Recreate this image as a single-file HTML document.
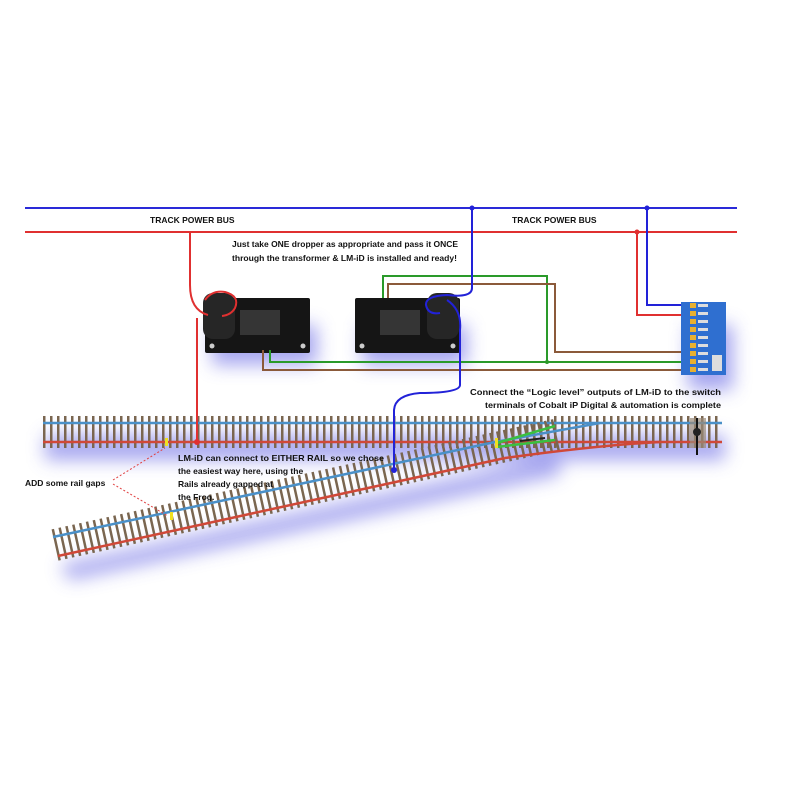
<!DOCTYPE html>
<html><head><meta charset="utf-8"><style>
html,body{margin:0;padding:0;background:#fff;}
svg{display:block;}
text{font-family:"Liberation Sans",sans-serif;font-weight:bold;fill:#111;}
</style></head><body>
<svg width="800" height="800" viewBox="0 0 800 800" xmlns="http://www.w3.org/2000/svg">
<defs>
<filter id="b" x="-20%" y="-80%" width="140%" height="260%"><feGaussianBlur stdDeviation="9"/></filter>
</defs>
<!-- glows -->
<g filter="url(#b)" opacity="0.5" fill="#5050e0">
<rect x="45" y="435" width="680" height="25"/>
<polygon points="60,565 560,455 560,475 70,580"/>
<rect x="212" y="325" width="105" height="40"/>
<rect x="362" y="325" width="105" height="40"/>
<rect x="688" y="325" width="45" height="65"/>
</g>
<!-- buses -->
<line x1="25" y1="208" x2="737" y2="208" stroke="#2a2ad8" stroke-width="2"/>
<line x1="25" y1="232" x2="737" y2="232" stroke="#e03030" stroke-width="2"/>
<text x="150" y="223" font-size="8.5">TRACK POWER BUS</text>
<text x="512" y="223" font-size="8.5">TRACK POWER BUS</text>
<text x="232" y="247" font-size="8.5" textLength="226" lengthAdjust="spacingAndGlyphs">Just take ONE dropper as appropriate and pass it ONCE</text>
<text x="232" y="261" font-size="8.5" textLength="225" lengthAdjust="spacingAndGlyphs">through the transformer &amp; LM-iD is installed and ready!</text>
<!-- straight track -->
<line x1="43" y1="432" x2="722" y2="432" stroke="#7a6650" stroke-width="32" stroke-dasharray="2.5 4.5"/>
<line x1="43" y1="423" x2="722" y2="423" stroke="#4a90c8" stroke-width="2.5"/>
<line x1="43" y1="442" x2="722" y2="442" stroke="#d04838" stroke-width="2.5"/>
<!-- diverging track -->
<line x1="55" y1="545" x2="560" y2="434" stroke="#7a6650" stroke-width="32" stroke-dasharray="2.5 4.5"/>
<line x1="53" y1="537" x2="495" y2="442" stroke="#4a90c8" stroke-width="2.5"/>
<line x1="58" y1="556" x2="505" y2="458" stroke="#d04838" stroke-width="2.5"/>
<path d="M495 442 Q560 430 600 423" stroke="#4a90c8" stroke-width="2.5" fill="none"/>
<path d="M505 458 Q600 445 660 442" stroke="#d04838" stroke-width="2.5" fill="none"/>
<path d="M497 443 L555 426 M497 447 L555 440" stroke="#3ac040" stroke-width="2.5"/>
<line x1="520" y1="441" x2="545" y2="438" stroke="#222" stroke-width="2"/>
<rect x="690" y="418" width="16" height="30" fill="#9a8a78" opacity="0.7"/>
<line x1="697" y1="418" x2="697" y2="455" stroke="#111" stroke-width="2"/>
<circle cx="697" cy="432" r="4" fill="#222"/>
<!-- gaps -->
<rect x="165" y="438" width="3" height="8" fill="#f0e020"/>
<rect x="495" y="438" width="3" height="10" fill="#f0e020"/>
<rect x="170" y="512" width="3" height="8" fill="#f0e020"/>
<path d="M113 480 L165 448 M113 484 L168 516" stroke="#e04040" stroke-width="1" stroke-dasharray="2 2" fill="none"/>
<text x="25" y="486" font-size="8.5">ADD some rail gaps</text>
<text x="178" y="461" font-size="8.5" textLength="206" lengthAdjust="spacingAndGlyphs">LM-iD can connect to EITHER RAIL so we chose</text>
<text x="178" y="474" font-size="8.5">the easiest way here, using the</text>
<text x="178" y="487" font-size="8.5">Rails already gapped at</text>
<text x="178" y="500" font-size="8.5">the Frog.</text>
<text x="470" y="395" font-size="8.5" textLength="251" lengthAdjust="spacingAndGlyphs">Connect the “Logic level” outputs of LM-iD to the switch</text>
<text x="485" y="408" font-size="8.5" textLength="236" lengthAdjust="spacingAndGlyphs">terminals of Cobalt iP Digital &amp; automation is complete</text>
<!-- modules -->
<rect x="205" y="298" width="105" height="55" fill="#151515" rx="2"/>
<rect x="355" y="298" width="105" height="55" fill="#151515" rx="2"/>
<g fill="#555">
<rect x="240" y="310" width="40" height="25" opacity="0.5"/><rect x="380" y="310" width="40" height="25" opacity="0.5"/>
<circle cx="212" cy="346" r="2.5" fill="#ccc"/><circle cx="303" cy="346" r="2.5" fill="#ccc"/>
<circle cx="362" cy="346" r="2.5" fill="#ccc"/><circle cx="453" cy="346" r="2.5" fill="#ccc"/>
</g>
<rect x="203" y="293" width="32" height="46" fill="#262626" rx="10"/>
<rect x="427" y="293" width="32" height="46" fill="#262626" rx="10"/>
<!-- wires -->
<g fill="none" stroke-width="2">
<path d="M383 298 V276 H547 V362 H688" stroke="#2a9a2a"/>
<path d="M270 350 V362 H547" stroke="#2a9a2a"/>
<path d="M388 298 V284 H555 V352 H688" stroke="#8b5a3a"/>
<path d="M263 350 V370 H688" stroke="#8b5a3a"/>
<path d="M190 232 V285 Q190 310 208 315 M205 300 Q212 290 225 292 Q240 296 235 308 Q231 315 222 316" stroke="#e03030"/>
<path d="M197 318 V442" stroke="#e03030"/>
<path d="M472 208 V288 Q472 298 447 295 Q425 296 426 305 Q428 315 440 313 M447 300 Q462 310 460 330 V385 Q460 393 420 393 Q395 395 394 410 V470" stroke="#2222d8"/>
<path d="M647 208 V305 H683" stroke="#2222d8"/>
<path d="M637 232 V315 H683" stroke="#e03030"/>
</g>
<circle cx="197" cy="442" r="3" fill="#e03030"/>
<circle cx="394" cy="470" r="3" fill="#2222d8"/>
<circle cx="472" cy="208" r="2.5" fill="#2222d8"/>
<circle cx="647" cy="208" r="2.5" fill="#2222d8"/>
<circle cx="637" cy="232" r="2.5" fill="#e03030"/>
<circle cx="547" cy="362" r="2" fill="#2a9a2a"/>
<!-- cobalt -->
<rect x="681" y="302" width="45" height="73" fill="#2f6fd0"/>
<g fill="#e8b030">
<rect x="690" y="303" width="6" height="5"/><rect x="690" y="311" width="6" height="5"/><rect x="690" y="319" width="6" height="5"/><rect x="690" y="327" width="6" height="5"/><rect x="690" y="335" width="6" height="5"/><rect x="690" y="343" width="6" height="5"/><rect x="690" y="351" width="6" height="5"/><rect x="690" y="359" width="6" height="5"/><rect x="690" y="367" width="6" height="5"/>
</g>
<g fill="#ddd"><rect x="698" y="304" width="10" height="3"/><rect x="698" y="312" width="10" height="3"/><rect x="698" y="320" width="10" height="3"/><rect x="698" y="328" width="10" height="3"/><rect x="698" y="336" width="10" height="3"/><rect x="698" y="344" width="10" height="3"/><rect x="698" y="352" width="10" height="3"/><rect x="698" y="360" width="10" height="3"/><rect x="698" y="368" width="10" height="3"/><rect x="712" y="355" width="10" height="16"/></g>
</svg>
</body></html>
